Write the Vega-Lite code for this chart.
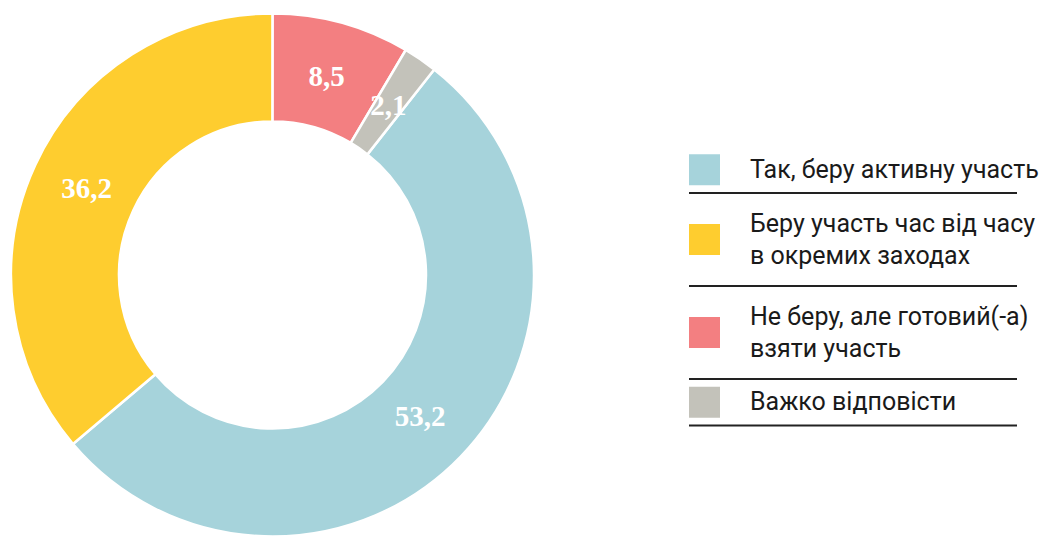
{
  "$schema": "https://vega.github.io/schema/vega-lite/v6.json",
  "padding": {"left": 0, "top": 8, "right": 0, "bottom": 0},
  "spacing": 0,
  "config": {
    "view": {"stroke": null},
    "locale": {"number": {"decimal": ",", "thousands": " ", "grouping": [3], "currency": ["", ""]}}
  },
  "datasets": {
    "d": [
      {"label": "Так, беру активну участь", "value": 53.2, "rank": 1, "lines": 1},
      {"label": "Беру участь час від часу\nв окремих заходах", "value": 36.2, "rank": 2, "lines": 2},
      {"label": "Не беру, але готовий(-а)\nвзяти участь", "value": 8.5, "rank": 3, "lines": 2},
      {"label": "Важко відповісти", "value": 2.1, "rank": 4, "lines": 1}
    ]
  },
  "hconcat": [
    {
      "width": 545,
      "height": 524,
      "data": {"name": "d"},
      "layer": [
        {
          "mark": {"type": "arc", "outerRadius": 261.5, "innerRadius": 153.5, "stroke": "#ffffff", "strokeWidth": 2.5},
          "encoding": {
            "theta": {"field": "value", "type": "quantitative", "stack": true, "scale": {"range": [0.66672, 6.94991]}},
            "color": {
              "field": "label", "type": "nominal", "legend": null,
              "scale": {
                "domain": ["Так, беру активну участь", "Беру участь час від часу\nв окремих заходах", "Не беру, але готовий(-а)\nвзяти участь", "Важко відповісти"],
                "range": ["#A6D3DB", "#FECD2F", "#F37F81", "#C3C2BA"]
              }
            },
            "order": {"field": "rank", "type": "quantitative"}
          }
        },
        {
          "mark": {"type": "text", "radius": 205, "font": "Liberation Serif", "fontSize": 29, "fontWeight": "bold", "fill": "#ffffff", "align": "center", "baseline": "middle"},
          "encoding": {
            "theta": {"field": "value", "type": "quantitative", "stack": true},
            "text": {"field": "value", "type": "quantitative", "format": ".1f"},
            "detail": {"field": "label", "type": "nominal"},
            "order": {"field": "rank", "type": "quantitative"}
          }
        }
      ]
    },
    {
      "width": 503,
      "height": 524,
      "data": {"name": "d"},
      "layer": [
        {
          "mark": {"type": "point", "shape": "square", "filled": true, "size": 961, "opacity": 1, "strokeWidth": 0},
          "encoding": {
            "x": {"datum": 159.5, "type": "quantitative", "axis": null, "scale": {"domain": [0, 503], "nice": false, "zero": false}},
            "y": {"field": "lines", "type": "quantitative", "stack": true, "bandPosition": 0.5, "axis": null, "scale": {"domain": [-2.871, 8.398], "nice": false, "zero": false, "reverse": true}},
            "color": {
              "field": "label", "type": "nominal", "legend": null,
              "scale": {
                "domain": ["Так, беру активну участь", "Беру участь час від часу\nв окремих заходах", "Не беру, але готовий(-а)\nвзяти участь", "Важко відповісти"],
                "range": ["#A6D3DB", "#FECD2F", "#F37F81", "#C3C2BA"]
              }
            },
            "order": {"field": "rank", "type": "quantitative"}
          }
        },
        {
          "mark": {"type": "text", "align": "left", "baseline": "middle", "lineBreak": "\n", "lineHeight": 32, "dy": 16, "font": "Roboto", "fontSize": 25, "fill": "#1a1a1a"},
          "encoding": {
            "x": {"datum": 205, "type": "quantitative"},
            "y": {"field": "lines", "type": "quantitative", "stack": true, "bandPosition": 0.156},
            "text": {"field": "label", "type": "nominal"},
            "detail": {"field": "label", "type": "nominal"},
            "order": {"field": "rank", "type": "quantitative"}
          }
        },
        {
          "mark": {"type": "tick", "orient": "horizontal", "size": 328, "thickness": 1.8, "color": "#222222", "opacity": 1},
          "encoding": {
            "x": {"datum": 308, "type": "quantitative"},
            "y": {"field": "lines", "type": "quantitative", "stack": true},
            "detail": {"field": "label", "type": "nominal"},
            "order": {"field": "rank", "type": "quantitative"}
          }
        }
      ]
    }
  ]
}
